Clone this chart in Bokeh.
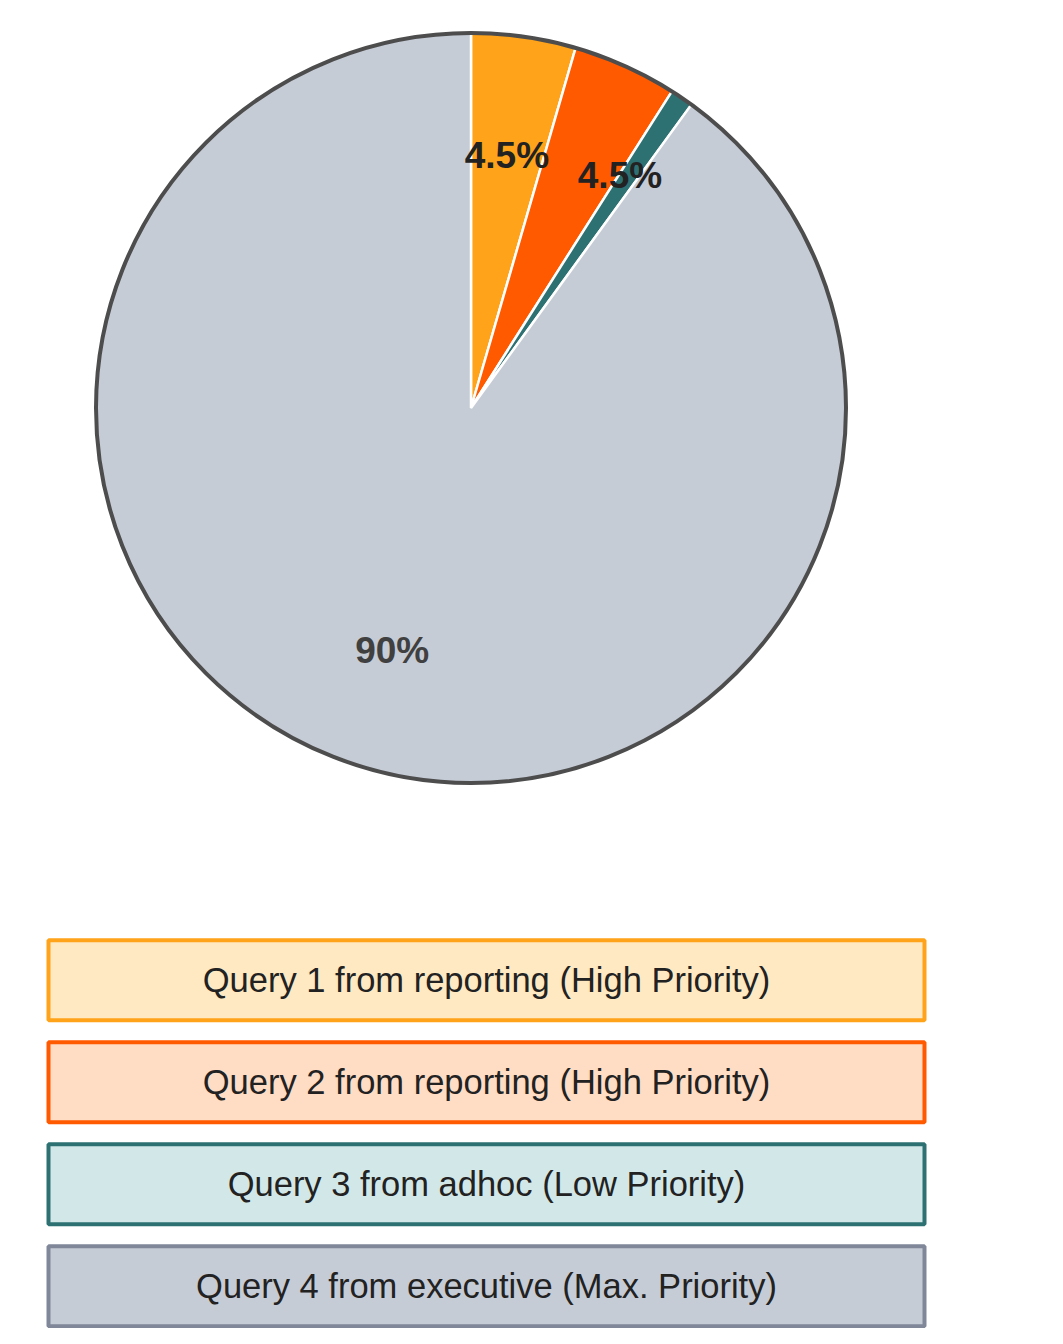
import math
from bokeh.plotting import figure
from bokeh.models import Range1d, ColumnDataSource
from bokeh.core.properties import value
from bokeh.embed import file_html
from bokeh.resources import INLINE

# ---- data ----
categories = [
    "Query 1 from reporting (High Priority)",
    "Query 2 from reporting (High Priority)",
    "Query 3 from adhoc (Low Priority)",
    "Query 4 from executive (Max. Priority)",
]
shares = [4.5, 4.5, 1.0, 90.0]
pct_labels = ["4.5%", "4.5%", "", "90%"]

# ---- style ----
slice_colors = ["#FFA31A", "#FF5A00", "#2E7173", "#C6CCD6"]
box_fills = ["#FFE9C3", "#FFDCC4", "#D2E8E8", "#C6CCD6"]
box_lines = ["#FFA31A", "#FF5A00", "#2E7173", "#7F8799"]
label_colors = ["#222222", "#222222", "#222222", "#404040"]
label_xoff = [0, 44, 0, 0]

W, H = 1047, 1328
p = figure(width=W, height=H, x_range=Range1d(0, W), y_range=Range1d(0, H),
           x_axis_type=None, y_axis_type=None, toolbar_location=None,
           output_backend="svg", min_border=0, outline_line_color=None)
p.xgrid.visible = False
p.ygrid.visible = False

cx, cy, R = 470.5, H - 407.5, 375.0
total = sum(shares)
starts, ends, lx, ly = [], [], [], []
cum = 0.0
for s in shares:
    a0 = math.pi / 2 - 2 * math.pi * cum / total
    cum += s
    a1 = math.pi / 2 - 2 * math.pi * cum / total
    starts.append(a0)
    ends.append(a1)
    mid = (a0 + a1) / 2
    lx.append(cx + 0.68 * R * math.cos(mid))
    ly.append(cy + 0.68 * R * math.sin(mid))

src = ColumnDataSource(dict(start=starts, end=ends, color=slice_colors,
                            lx=lx, ly=ly, lab=pct_labels, lcol=label_colors,
                            xoff=label_xoff))
p.wedge(x=cx, y=cy, radius=R, start_angle="start", end_angle="end",
        direction="clock", fill_color="color", line_color="white",
        line_width=2.5, source=src)
p.circle(x=cx, y=cy, radius=R, fill_color=None, line_color="#4D4D4D", line_width=4)
p.text(x="lx", y="ly", text="lab", x_offset="xoff", text_color="lcol",
       text_font=value("Liberation Sans"), text_font_style="bold",
       text_font_size="37px", text_align="center", text_baseline="middle",
       source=src)

# legend boxes
bx = 486.0
by = [H - (979.75 + i * 102.0) for i in range(len(categories))]
lsrc = ColumnDataSource(dict(x=[bx] * len(categories), y=by, fill=box_fills,
                             line=box_lines, name=categories))
p.rect(x="x", y="y", width=876, height=80, fill_color="fill",
       line_color="line", line_width=4, source=lsrc)
p.text(x="x", y="y", text="name", text_color="#222222",
       text_font=value("Liberation Sans"), text_font_size="34.5px",
       text_align="center", text_baseline="middle", source=lsrc)

open("out.html", "w").write(file_html(p, INLINE))
